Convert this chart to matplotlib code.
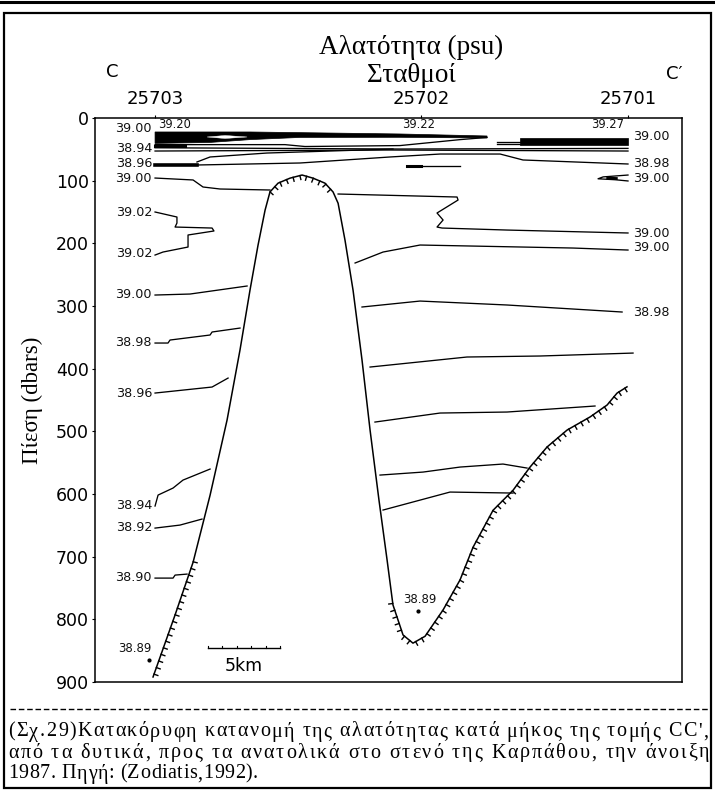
import numpy as np
import matplotlib.pyplot as plt
from matplotlib.patches import Rectangle, Polygon
from matplotlib.lines import Line2D

W, H = 715, 790
fig = plt.figure(figsize=(W / 100, H / 100), dpi=100)

SANS = ['DejaVu Sans']
SERIF = ['Liberation Serif', 'DejaVu Serif']

# ---- section geometry -------------------------------------------------------
stations = ['25703', '25702', '25701']
station_km = [4.17, 22.64, 37.0]
depth_ticks = [0, 100, 200, 300, 400, 500, 600, 700, 800, 900]

# sea-floor profile (distance km, pressure dbar)
bottom_km = [4.03, 5.56, 6.81, 7.99, 9.17, 10.07, 10.76, 11.32, 11.81, 12.15,
             12.71, 13.54, 14.38, 15.14, 15.97, 16.53, 16.88, 17.36, 17.92,
             18.54, 19.10, 19.72, 20.28, 20.69, 21.39, 22.08, 22.92, 24.17,
             25.35, 26.25, 27.64, 29.03, 30.21, 31.39, 32.78, 34.38, 35.56,
             36.25, 36.94]
bottom_db = [892, 793, 709, 602, 482, 370, 275, 203, 147, 118,
             104, 96, 91, 96, 104, 118, 136, 195, 275,
             386, 498, 610, 705, 777, 825, 838, 827, 785,
             737, 685, 626, 594, 557, 525, 498, 477, 458,
             439, 429]

# ---- near-surface layer ------------------------------------------------------
band_west_km = [4.17, 10.76, 21.18, 27.22, 27.22, 21.18, 14.24, 10.76, 7.99, 4.17]
band_west_db = [22.3, 22.3, 25.5, 28.7, 31.9, 30.8, 31.0, 34.5, 39.0, 40.5]
lens_west_km = [7.78, 9.03, 10.56, 9.03]
lens_west_db = [30.3, 27.9, 30.3, 32.7]
band_east_km = [29.51, 37.01]
band_east_db = [32.5, 43.5]

s1_km = [4.17, 13.19, 14.58, 21.18, 25.35, 27.22]
s1_db = [42.5, 42.5, 45.5, 44.0, 34.5, 31.0]
s2_km = [4.17, 21.18, 37.01]
s2_db = [47.5, 49.5, 48.5]
s3_km = [4.17, 20.49, 37.01]
s3_db = [52.7, 51.1, 52.7]
s4_km = [7.08, 7.99, 11.94, 20.69]
s4_db = [70.2, 62.2, 55.9, 49.5]
s5_km = [4.17, 7.08, 14.24, 20.49, 23.96, 28.13, 29.72, 37.01]
s5_db = [75.0, 75.0, 71.8, 62.2, 57.5, 57.5, 67.0, 73.4]
s6_km = [21.67, 25.35]
s6_db = [76.6, 76.6]
s7_km = [37.01, 35.28, 34.93, 36.11, 37.01]
s7_db = [91.0, 94.0, 97.0, 98.5, 100.5]
pair_km = [27.92, 29.51]
pair_db = [38.3, 41.5]

# ---- isohalines below the surface layer -------------------------------------
w3900a_km = [4.17, 6.81, 7.50, 8.68, 12.15]
w3900a_db = [95.8, 98.9, 110.1, 113.3, 114.9]
e3900a_km = [16.88, 25.14, 25.21, 23.75, 24.17, 23.75, 24.10, 28.61, 37.01]
e3900a_db = [121.3, 126.1, 130.9, 151.6, 162.8, 174.0, 175.6, 178.8, 183.5]
e3900b_km = [18.06, 20.00, 22.57, 33.19, 37.01]
e3900b_db = [231.4, 213.9, 202.7, 207.5, 210.7]
w3902_km = [4.17, 5.69, 5.69, 5.56, 8.13, 8.26, 6.46, 6.46, 4.72, 4.17]
w3902_db = [150.0, 158.0, 167.6, 174.0, 175.6, 180.3, 186.7, 205.9, 213.9, 218.7]
w3900b_km = [4.17, 6.60, 10.56]
w3900b_db = [282.5, 280.9, 268.1]
w3898_km = [4.17, 5.07, 5.21, 7.99, 8.13, 10.07]
w3898_db = [359.1, 359.1, 354.3, 346.3, 341.5, 335.2]
w3896_km = [4.17, 8.13, 9.24]
w3896_db = [438.9, 429.3, 415.0]
w3894_km = [4.17, 4.38, 5.42, 6.11, 7.99]
w3894_db = [619.2, 601.7, 590.5, 577.8, 560.2]
w3892_km = [4.17, 5.90, 7.43]
w3892_db = [654.4, 649.6, 640.0]
w3890_km = [4.17, 5.42, 5.56, 6.39]
w3890_db = [734.2, 734.2, 729.4, 727.8]
e3898_km = [18.54, 22.57, 28.61, 36.60]
e3898_db = [301.6, 292.1, 298.4, 309.6]
e3896_km = [19.10, 25.83, 30.90, 37.36]
e3896_db = [397.4, 381.4, 379.8, 375.1]
e3894_km = [19.44, 23.96, 28.61, 34.72]
e3894_db = [485.2, 470.8, 469.2, 459.6]
e3892_km = [19.79, 22.78, 25.35, 28.33, 30.00]
e3892_db = [569.8, 565.0, 557.0, 552.2, 558.6]
e3890_km = [20.00, 24.65, 29.03]
e3890_db = [625.6, 596.9, 598.5]

# ---- labels -----------------------------------------------------------------
west_label_text = ['39.00', '38.94', '38.96', '39.00', '39.02', '39.02',
                   '39.00', '38.98', '38.96', '38.94', '38.92', '38.90']
west_label_db = [16, 48, 72, 96, 150, 217, 282, 359, 439, 618, 654, 734]
east_label_text = ['39.00', '38.98', '39.00', '39.00', '39.00', '38.98']
east_label_db = [30, 73, 96, 184, 207, 310]
surface_label_text = ['39.20', '39.22', '39.27']
surface_label_km = [5.5, 22.5, 35.6]
surface_label_db = [10, 11, 11]
min_label_text = ['38.89', '38.89']
min_label_km = [2.75, 22.57]
min_label_db = [847, 768]
min_dot_km = [3.75, 22.43]
min_dot_db = [865, 787]

scale_km = [7.85, 12.85]
scale_db = 846

# ---- axes --------------------------------------------------------------------
ax = fig.add_axes([95 / W, 1 - 682 / H, 587 / W, 564 / H])
ax.set_xlim(0, 40.76)
ax.set_ylim(900, 0)
for sp in ax.spines.values():
    sp.set_linewidth(1.1)
ax.xaxis.set_ticks_position('top')
ax.set_xticks(station_km)
ax.set_xticklabels(stations, fontfamily=SANS)
ax.tick_params(axis='x', direction='out', length=2.5, width=0.8, pad=5,
               labelsize=13)
ax.set_yticks(depth_ticks)
ax.set_yticklabels([str(v) for v in depth_ticks], fontfamily=SANS)
ax.tick_params(axis='y', direction='out', length=2.5, width=0.8, pad=2,
               labelsize=12.5)

LW = 0.95
k = 'black'

# surface layer
ax.add_patch(Polygon(np.column_stack([band_west_km, band_west_db]),
                     closed=True, fc=k, ec=k, lw=0.5))
ax.add_patch(Polygon(np.column_stack([lens_west_km, lens_west_db]),
                     closed=True, fc='white', ec='white', lw=0.3))
ax.add_patch(Rectangle((band_east_km[0], band_east_db[0]),
                       band_east_km[1] - band_east_km[0],
                       band_east_db[1] - band_east_db[0], fc=k, ec=k, lw=0.5))
for xs, ys in [(s1_km, s1_db), (s2_km, s2_db), (s3_km, s3_db),
               (s4_km, s4_db), (s5_km, s5_db), (s7_km, s7_db)]:
    ax.plot(xs, ys, color=k, lw=LW, solid_joinstyle='round')
ax.plot(s5_km[:2], s5_db[:2], color=k, lw=2.6)
ax.plot([4.17, 6.25], [44.5, 44.5], color=k, lw=2.2)
ax.plot(s6_km, s6_db, color=k, lw=LW)
ax.plot([s6_km[0], s6_km[0] + 1.0], s6_db, color=k, lw=2.2)
ax.plot([35.6, 36.2], [96.0, 96.5], color=k, lw=2.0)
for d in pair_db:
    ax.plot(pair_km, [d, d], color=k, lw=LW)

# isohalines
for xs, ys in [(w3900a_km, w3900a_db), (e3900a_km, e3900a_db),
               (e3900b_km, e3900b_db), (w3902_km, w3902_db),
               (w3900b_km, w3900b_db), (w3898_km, w3898_db),
               (w3896_km, w3896_db), (w3894_km, w3894_db),
               (w3892_km, w3892_db), (w3890_km, w3890_db),
               (e3898_km, e3898_db), (e3896_km, e3896_db),
               (e3894_km, e3894_db), (e3892_km, e3892_db),
               (e3890_km, e3890_db)]:
    ax.plot(xs, ys, color=k, lw=LW, solid_joinstyle='round')

# sea floor with hachures on the seabed side
ax.plot(bottom_km, bottom_db, color=k, lw=1.1, solid_joinstyle='round')
fig.canvas.draw()
pts = ax.transData.transform(np.column_stack([bottom_km, bottom_db]))
seg = np.diff(pts, axis=0)
seg_len = np.hypot(seg[:, 0], seg[:, 1])
cum = np.concatenate([[0], np.cumsum(seg_len)])
inv = ax.transData.inverted()
trough_km = bottom_km[int(np.argmax(bottom_db[10:])) + 10]
for t in np.arange(3.0, cum[-1], 7.0):
    i = min(np.searchsorted(cum, t) - 1, len(seg) - 1)
    f = (t - cum[i]) / seg_len[i]
    p = pts[i] + f * seg[i]
    xk, yd = inv.transform(p)
    if not (yd < 121 or (xk < 10 and yd > 705) or (xk > 20 and yd > 765)
            or xk > trough_km):
        continue
    tv = seg[i] / seg_len[i]
    nrm = np.array([tv[1], -tv[0]])
    q = p + nrm * 4.0
    a, b = inv.transform(p), inv.transform(q)
    ax.plot([a[0], b[0]], [a[1], b[1]], color=k, lw=1.0)

# labels
lab = dict(fontfamily=SANS, fontsize=9.2, color='#111111', va='center')
for txt, d in zip(west_label_text, west_label_db):
    ax.text(3.96, d, txt, ha='right', **lab)
for txt, d in zip(east_label_text, east_label_db):
    ax.text(37.36, d, txt, ha='left', **lab)
for txt, x, d in zip(surface_label_text, surface_label_km, surface_label_db):
    ax.text(x, d, txt, ha='center', fontfamily=SANS, fontsize=8.3,
            color='#111111', va='center')
for txt, x, d in zip(min_label_text, min_label_km, min_label_db):
    ax.text(x, d, txt, ha='center', fontfamily=SANS, fontsize=8.5,
            color='#111111', va='center')
ax.plot(min_dot_km, min_dot_db, 'o', color=k, ms=2.0)

# scale bar
ax.plot(scale_km, [scale_db, scale_db], color=k, lw=1.0)
for xk in np.linspace(scale_km[0], scale_km[1], 6):
    ax.plot([xk, xk], [scale_db, scale_db - 4], color=k, lw=0.8)
ax.text(np.mean(scale_km), scale_db + 29, '5km', ha='center', va='center',
        fontfamily=SANS, fontsize=12.5)

# ---- page furniture --------------------------------------------------------------
def fx(px):
    return px / W


def fy(py):
    return 1 - py / H


fig.text(fx(411), fy(47), 'Αλατότητα (psu)', ha='center', va='center',
         fontfamily=SERIF, fontsize=19.5)
fig.text(fx(411), fy(75), 'Σταθμοί', ha='center', va='center',
         fontfamily=SERIF, fontsize=19.5)
fig.text(fx(112), fy(72), 'C', ha='center', va='center', fontfamily=SANS,
         fontsize=13)
fig.text(fx(674), fy(74), 'C′', ha='center', va='center', fontfamily=SANS,
         fontsize=13)
fig.text(fx(32), fy(400), 'Πίεση (dbars)', ha='center', va='center',
         rotation=90, fontfamily=SERIF, fontsize=16.5)

fig.add_artist(Line2D([0, 1], [fy(1.5), fy(1.5)], color=k, lw=2.2))
fig.add_artist(Rectangle((fx(4), fy(788)), fx(711) - fx(4), fy(13) - fy(788),
                         fill=False, ec=k, lw=1.6))
fig.add_artist(Line2D([fx(10), fx(711)], [fy(709), fy(709)], color=k, lw=1.0,
                      linestyle=(0, (4, 2))))

# caption, set with letter spacing so the lines fill their measured widths
caption_lines = [
    '(Σχ.29)Κατακόρυφη κατανομή της αλατότητας κατά μήκος της τομής CC\',',
    'από τα δυτικά, προς τα ανατολικά στο στενό της Καρπάθου, την άνοιξη',
    '1987. Πηγή: (Zodiatis,1992).',
]
caption_y = [732, 753, 774]
caption_right = [708, 709, 258]
CAP_FS = 14.5

renderer = fig.canvas.get_renderer()


def text_width(s):
    t = fig.text(0, 0, s, fontfamily=SERIF, fontsize=CAP_FS)
    w = t.get_window_extent(renderer).width
    t.remove()
    return w


char_w = {}
for line in caption_lines:
    for ch in set(line):
        if ch not in char_w:
            if ch == ' ':
                char_w[ch] = text_width('a a') - text_width('aa')
            else:
                char_w[ch] = text_width(ch)

for line, yy, right in zip(caption_lines, caption_y, caption_right):
    natural = sum(char_w[c] for c in line)
    track = max(0.0, (right - 8 - natural) / (len(line) - 1))
    xpos = 8.0
    for c in line:
        if c != ' ':
            fig.text(fx(xpos), fy(yy), c, fontfamily=SERIF, fontsize=CAP_FS,
                     ha='left', va='center')
        xpos += char_w[c] + track

fig.savefig('out.png', dpi=100, facecolor='white')
